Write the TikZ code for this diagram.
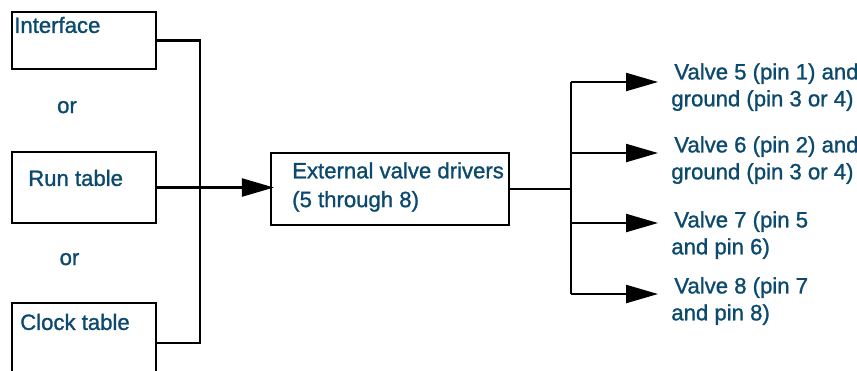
\documentclass[tikz,border=0pt]{standalone}
\usepackage{fontspec}
\setmainfont{Liberation Sans}[UprightFeatures={FakeBold=1.2}]
\usetikzlibrary{arrows.meta,positioning,calc}
\definecolor{Ink}{HTML}{0B4A6E}

\begin{document}
\begin{tikzpicture}[x=0.02cm,y=-0.02cm,
  box/.style={draw=black,line width=0.045cm,minimum width=2.88cm,inner sep=0pt},
  txt/.style={text=Ink,font=\fontsize{12.6}{15.3}\selectfont,inner sep=0pt,align=left},
  wire/.style={draw=black,line width=0.045cm},
  arr/.style={wire,-{Triangle[length=0.64cm,width=0.36cm]}}]
\useasboundingbox (0,0) rectangle (857,370);
% sources
\node[box,minimum height=1.14cm] (intf) at (84,40.5) {};
\node[box,minimum height=1.42cm] (run) at (84,187.5) {};
\node[box,minimum height=1.60cm] (clk) at (84,343) {};
\node[txt,anchor=base west] (tintf) at ($(intf.north west)+(3,22)$) {Interface};
\node[txt,anchor=base west] (trun) at ($(run.north west)+(17,35)$) {Run table};
\node[txt,anchor=base west] (tclk) at ($(clk.north west)+(9,28)$) {Clock table};
\node[txt,anchor=base] (or1) at (67,113) {or};
\node[txt,anchor=base] (or2) at (69.5,265) {or};
% drivers
\node[box,minimum width=4.76cm,minimum height=1.44cm] (drv) at (390,189) {};
\node[txt,anchor=north west,font=\fontsize{12.6}{16.4}\selectfont] (tdrv) at ($(drv.north west)+(22,10)$) {External valve drivers\\(5 through 8)};
% outputs
\node[txt,anchor=north west] (v5) at (671,63) {\hspace*{0.06cm}Valve 5 (pin 1) and\\ground (pin 3 or 4)};
\node[txt,anchor=north west] (v6) at (671,136) {\hspace*{0.06cm}Valve 6 (pin 2) and\\ground (pin 3 or 4)};
\node[txt,anchor=north west] (v7) at (671,211) {\hspace*{0.06cm}Valve 7 (pin 5\\and pin 6)};
\node[txt,anchor=north west] (v8) at (671,277) {\hspace*{0.06cm}Valve 8 (pin 7\\and pin 8)};
% wiring
\coordinate (bus) at (200,0);
\coordinate (b1) at (571,82);
\coordinate (b2) at (571,153);
\coordinate (b3) at (571,223);
\coordinate (b4) at (571,294);
\draw[wire] (intf.east) -| (bus |- clk.east) -- (clk.east);
\draw[arr,shorten >=-0.08cm] (run.east) -- (run.east -| drv.west);
\draw[wire] (drv.east) -- (drv.east -| b1);
\draw[wire] (b1) -- (b4);
\draw[arr,shorten >=0.26cm] (b1) -- (b1 -| v5.west);
\draw[arr,shorten >=0.26cm] (b2) -- (b2 -| v6.west);
\draw[arr,shorten >=0.26cm] (b3) -- (b3 -| v7.west);
\draw[arr,shorten >=0.26cm] (b4) -- (b4 -| v8.west);
\end{tikzpicture}
\end{document}
